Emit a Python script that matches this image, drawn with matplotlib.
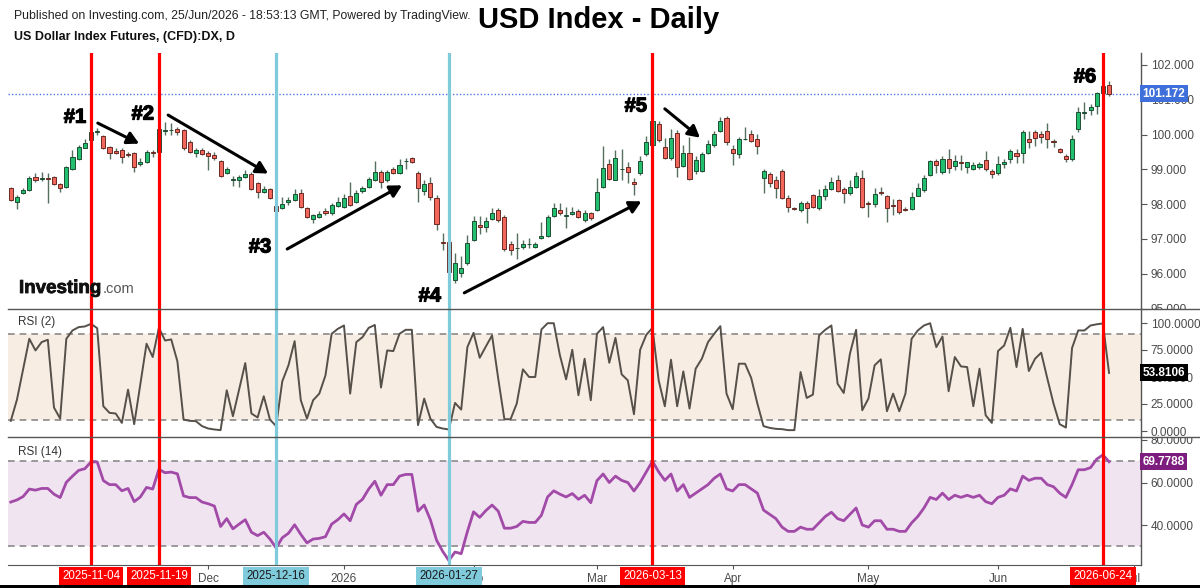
import matplotlib
matplotlib.use("Agg")
import matplotlib.pyplot as plt
import matplotlib.transforms as mtransforms
import matplotlib.patheffects as pe
from matplotlib.lines import Line2D
from matplotlib.patches import Rectangle
import numpy as np
import pandas as pd

plt.rcParams['font.family'] = ['Liberation Sans', 'DejaVu Sans']

# ---------------- data ----------------
dates = pd.bdate_range("2025-10-16", "2026-06-25")
dates = dates[~dates.isin(pd.to_datetime(["2025-12-25", "2026-01-01"]))]

open_ = [98.46, 98.07, 98.33, 98.41, 98.79, 98.72, 98.74, 98.77, 98.58, 98.49,
         99.00, 99.30, 99.61, 99.83, 100.07, 99.96, 99.65, 99.53, 99.56, 99.43,
         99.48, 99.15, 99.20, 99.51, 99.49, 100.10, 100.12, 100.15, 100.13, 99.80,
         99.46, 99.56, 99.48, 99.41, 99.25, 98.90, 98.70, 98.68, 98.79, 98.87,
         98.60, 98.36, 98.43, 97.95, 97.88, 98.07, 98.12, 98.31, 97.88, 97.57,
         97.64, 97.80, 97.74, 97.95, 97.93, 98.22, 98.07, 98.38, 98.50, 98.70,
         98.93, 98.68, 99.01, 98.90, 99.23, 99.32, 98.90, 98.39, 98.60, 98.17,
         96.90, 96.90, 95.82, 96.03, 96.30, 96.97, 97.39, 97.33, 97.57, 97.83,
         97.64, 96.85, 96.73, 96.78, 96.84, 96.78, 97.02, 97.09, 97.66, 97.83,
         97.66, 97.71, 97.80, 97.53, 97.74, 97.83, 98.50, 99.16, 98.70, 99.00,
         99.06, 98.64, 98.90, 99.44, 99.70, 100.30, 99.63, 99.34, 100.04, 99.10,
         99.46, 98.96, 98.96, 99.46, 99.70, 100.11, 100.47, 99.59, 99.43, 99.86,
         100.02, 99.87, 98.76, 98.87, 98.70, 98.96, 98.19, 97.88, 97.83, 98.04,
         98.26, 97.88, 98.24, 98.44, 98.70, 98.44, 98.31, 98.49, 98.76, 98.04,
         98.00, 98.36, 98.24, 97.96, 98.12, 97.86, 97.85, 98.24, 98.41, 98.84,
         99.24, 98.93, 99.30, 99.10, 99.20, 99.08, 99.00, 99.08, 99.27, 98.95,
         98.89, 99.15, 99.29, 99.46, 99.46, 99.86, 100.07, 100.02, 100.10, 99.82,
         99.58, 99.39, 99.30, 100.16, 100.63, 100.71, 100.83, 101.19, 101.43]

high = [98.50, 98.25, 98.45, 98.80, 98.90, 98.92, 98.90, 98.80, 98.60, 99.10,
        99.55, 99.70, 99.88, 100.12, 100.20, 100.00, 99.68, 99.60, 99.62, 99.50,
        99.50, 99.32, 99.55, 99.55, 100.20, 100.37, 100.32, 100.22, 100.17, 99.85,
        99.60, 99.60, 99.52, 99.50, 99.28, 99.08, 98.80, 98.85, 98.97, 98.92,
        98.65, 98.52, 98.47, 98.00, 98.20, 98.20, 98.43, 98.43, 97.92, 97.73,
        97.80, 97.88, 98.02, 98.20, 98.28, 98.65, 98.42, 98.52, 98.78, 99.24,
        98.97, 98.98, 99.06, 99.30, 99.32, 99.36, 98.95, 98.70, 98.78, 98.27,
        97.18, 97.10, 96.60, 96.50, 97.10, 97.65, 97.65, 97.62, 97.90, 97.90,
        97.68, 96.93, 97.16, 96.98, 97.03, 96.90, 97.50, 97.68, 98.04, 98.04,
        97.92, 97.92, 97.85, 97.82, 97.78, 98.74, 99.67, 99.30, 99.55, 99.58,
        99.20, 98.76, 99.37, 99.95, 100.53, 100.38, 99.90, 100.15, 100.13, 99.70,
        99.94, 99.37, 99.51, 99.85, 100.09, 100.51, 100.52, 99.71, 99.94, 100.23,
        100.14, 100.03, 99.00, 98.93, 98.80, 99.00, 98.27, 97.93, 98.10, 98.10,
        98.30, 98.43, 98.54, 98.77, 98.84, 98.49, 98.69, 98.93, 98.98, 98.10,
        98.45, 98.50, 98.27, 98.16, 98.16, 97.93, 98.36, 98.60, 98.84, 99.27,
        99.29, 99.37, 99.58, 99.41, 99.41, 99.22, 99.22, 99.22, 99.54, 99.00,
        99.37, 99.31, 99.58, 99.58, 100.14, 100.09, 100.14, 100.09, 100.32, 99.86,
        99.61, 99.44, 99.98, 100.80, 100.95, 100.88, 101.23, 101.57, 101.55]

low = [98.08, 97.85, 98.30, 98.38, 98.65, 98.66, 98.03, 98.55, 98.36, 98.45,
       98.97, 99.28, 99.60, 99.80, 99.98, 99.58, 99.29, 99.45, 99.18, 99.35,
       98.93, 99.10, 99.18, 99.35, 99.45, 99.98, 100.00, 100.00, 99.57, 99.48,
       99.35, 99.40, 98.98, 99.28, 98.78, 98.86, 98.52, 98.50, 98.74, 98.40,
       98.18, 98.33, 98.14, 97.55, 97.85, 97.98, 98.10, 97.90, 97.60, 97.45,
       97.60, 97.69, 97.70, 97.92, 97.90, 97.95, 98.03, 98.33, 98.45, 98.66,
       98.46, 98.64, 98.86, 98.87, 99.00, 99.17, 98.07, 98.25, 98.13, 97.26,
       96.68, 95.40, 95.73, 95.90, 96.25, 96.93, 97.15, 97.20, 97.55, 97.50,
       96.66, 96.55, 96.42, 96.70, 96.73, 96.75, 97.00, 97.05, 97.62, 97.68,
       97.30, 97.68, 97.60, 97.50, 97.55, 97.80, 98.45, 98.68, 98.68, 98.70,
       98.60, 98.27, 98.83, 99.37, 99.65, 99.79, 99.29, 99.27, 98.79, 99.07,
       98.68, 98.88, 98.92, 99.44, 99.65, 100.08, 99.70, 99.13, 99.32, 99.83,
       99.79, 99.44, 98.33, 98.50, 98.17, 98.14, 97.78, 97.83, 97.78, 97.45,
       97.88, 97.82, 98.13, 98.41, 98.36, 98.04, 98.26, 98.46, 97.88, 97.62,
       97.92, 98.26, 97.50, 97.70, 97.72, 97.79, 97.83, 98.22, 98.36, 98.82,
       98.90, 98.88, 98.89, 98.98, 98.98, 98.90, 98.98, 99.00, 98.94, 98.75,
       98.84, 99.05, 99.17, 99.17, 99.17, 99.60, 99.67, 99.76, 99.60, 99.63,
       99.48, 99.22, 99.25, 100.08, 100.44, 100.57, 100.60, 101.12, 101.10]

close = [98.12, 98.20, 98.40, 98.74, 98.69, 98.74, 98.72, 98.58, 98.46, 99.06,
         99.36, 99.65, 99.75, 100.08, 100.10, 99.61, 99.48, 99.48, 99.35, 99.41,
         99.08, 99.22, 99.51, 99.48, 100.15, 100.12, 100.12, 100.08, 99.60, 99.51,
         99.56, 99.44, 99.38, 99.32, 98.81, 99.00, 98.72, 98.77, 98.87, 98.43,
         98.36, 98.43, 98.17, 97.80, 98.00, 98.12, 98.29, 97.93, 97.64, 97.69,
         97.71, 97.74, 97.98, 98.07, 98.17, 97.98, 98.33, 98.46, 98.72, 98.93,
         98.65, 98.93, 98.90, 99.13, 99.25, 99.20, 98.46, 98.58, 98.20, 97.43,
         96.88, 96.06, 96.30, 96.16, 96.88, 97.52, 97.33, 97.52, 97.74, 97.55,
         96.70, 96.68, 96.75, 96.86, 96.86, 96.86, 97.09, 97.64, 97.88, 97.74,
         97.68, 97.77, 97.64, 97.74, 97.59, 98.36, 99.03, 98.72, 99.32, 99.02,
         98.93, 98.58, 99.24, 99.78, 100.40, 99.84, 99.34, 99.90, 99.08, 99.48,
         98.72, 99.27, 99.43, 99.72, 100.02, 100.39, 99.78, 99.46, 99.87, 99.87,
         99.82, 99.68, 98.96, 98.60, 98.46, 98.17, 97.93, 97.87, 98.04, 97.90,
         97.93, 98.24, 98.44, 98.63, 98.39, 98.33, 98.50, 98.82, 97.93, 98.00,
         98.28, 98.33, 97.88, 97.95, 97.78, 97.82, 98.20, 98.46, 98.75, 99.25,
         99.13, 99.30, 99.03, 99.24, 99.19, 99.20, 99.13, 99.15, 99.00, 98.86,
         99.15, 99.22, 99.54, 99.39, 100.07, 99.80, 99.90, 99.94, 99.86, 99.78,
         99.51, 99.29, 99.87, 100.64, 100.65, 100.80, 101.19, 101.40, 101.172]

rsi2 = [9.4, 29.1, 57.0, 85.4, 74.6, 82.3, 84.5, 21.7, 11.5, 85.4,
        93.1, 96.2, 96.8, 99.2, 95.2, 22.9, 16.8, 16.2, 7.5, 38.3,
        6.3, 43.8, 80.8, 68.5, 95.6, 83.8, 84.8, 64.5, 10.6, 9.4,
        9.1, 4.5, 2.3, 1.4, 0.8, 37.7, 13.7, 38.3, 62.9, 16.2,
        12.5, 32.2, 10.6, 4.5, 46.0, 60.8, 83.2, 28.5, 11.5, 28.5,
        34.6, 51.5, 90.0, 94.6, 97.7, 34.6, 82.3, 86.9, 95.5, 98.2,
        40.2, 74.6, 74.0, 90.0, 93.7, 93.7, 5.4, 30.0, 11.5, 3.8,
        2.3, 1.4, 26.0, 19.8, 77.7, 90.9, 67.8, 78.3, 88.5, 48.5,
        10.9, 10.9, 25.4, 57.1, 50.0, 50.0, 94.0, 99.8, 99.8, 70.0,
        47.8, 75.2, 33.1, 66.9, 28.5, 90.0, 96.2, 63.2, 86.3, 52.5,
        46.9, 15.5, 75.2, 89.1, 95.5, 46.9, 22.9, 66.0, 22.9, 55.2,
        20.8, 57.7, 66.9, 82.3, 90.0, 97.1, 34.6, 20.2, 62.3, 62.3,
        49.1, 25.4, 4.5, 2.9, 2.0, 1.7, 0.8, 0.8, 54.6, 30.6,
        33.7, 88.5, 93.7, 97.7, 43.8, 35.2, 71.5, 93.7, 19.2, 30.0,
        60.8, 66.3, 18.3, 34.6, 18.3, 34.6, 85.4, 93.1, 97.7, 99.8,
        77.7, 87.5, 36.8, 68.5, 59.8, 59.2, 22.9, 57.7, 14.6, 7.5,
        74.0, 79.2, 95.5, 59.2, 94.6, 55.5, 66.9, 72.5, 48.5, 25.4,
        6.3, 3.2, 76.8, 93.1, 93.1, 97.7, 98.8, 99.6, 53.8106]

rsi14 = [50.8, 51.8, 53.4, 56.9, 56.4, 57.2, 57.2, 54.5, 52.9, 60.1,
         63.0, 65.7, 66.5, 69.7, 69.7, 60.9, 59.0, 59.0, 56.1, 57.2,
         51.0, 53.2, 57.7, 56.9, 66.2, 64.6, 64.9, 64.1, 53.7, 52.9,
         52.9, 50.8, 50.0, 48.9, 39.3, 43.0, 38.2, 40.4, 42.5, 36.6,
         35.0, 36.6, 33.4, 29.2, 34.0, 36.1, 40.1, 35.6, 31.6, 33.4,
         33.7, 34.5, 40.4, 42.5, 45.2, 42.0, 49.7, 52.1, 56.9, 60.6,
         54.0, 59.0, 59.0, 63.0, 63.8, 63.8, 46.5, 49.4, 42.5, 32.9,
         27.6, 23.3, 27.3, 26.5, 36.9, 46.2, 43.6, 46.8, 49.4, 46.5,
         38.5, 38.5, 39.3, 41.7, 41.2, 41.2, 44.6, 53.2, 56.1, 54.5,
         53.2, 54.8, 52.1, 54.0, 50.5, 60.9, 64.0, 60.0, 63.0, 61.0,
         60.0, 56.0, 60.0, 65.0, 70.0, 65.0, 61.0, 64.0, 56.0, 59.0,
         53.0, 55.0, 57.0, 59.0, 62.0, 64.0, 57.0, 56.0, 59.0, 59.0,
         57.0, 55.0, 47.0, 45.0, 43.0, 39.0, 37.0, 37.0, 39.0, 38.0,
         38.0, 41.0, 44.0, 46.0, 43.0, 42.0, 45.0, 48.0, 40.0, 39.0,
         42.0, 42.0, 38.0, 38.0, 37.0, 37.0, 41.0, 44.0, 48.0, 53.0,
         52.0, 55.0, 52.0, 54.0, 53.0, 54.0, 53.0, 54.0, 51.0, 50.0,
         53.0, 54.0, 57.0, 56.0, 63.0, 61.0, 62.0, 62.0, 59.0, 58.0,
         55.0, 53.0, 59.0, 66.0, 66.0, 67.0, 71.0, 73.0, 69.7788]

price_ticks = [95, 96, 97, 98, 99, 100, 101, 102]
rsi2_ticks = [0, 25, 50, 75, 100]
rsi14_ticks = [40, 60, 80]
last_price = 101.172
last_rsi2 = 53.8106
last_rsi14 = 69.7788
red_marks = ["2025-11-04", "2025-11-19", "2026-03-13", "2026-06-24"]
blue_marks = ["2025-12-16", "2026-01-27"]
event_labels = ["#1", "#2", "#3", "#4", "#5", "#6"]

# ---------------- layout helpers ----------------
W, H = 1200, 588
fig = plt.figure(figsize=(W / 100, H / 100), dpi=100)
fig.patch.set_facecolor("white")

X0_PX, STEP_PX = 10.8, 6.17          # pixel of bar 0, pixels per bar
L_PX, R_PX = 8, 1141


def px_axes(top, bottom):
    return fig.add_axes([L_PX / W, 1 - bottom / H, (R_PX - L_PX) / W, (bottom - top) / H])


def fx(px):
    return px / W


def fy(py):
    return 1 - py / H


ax1 = px_axes(53, 309)
ax2 = px_axes(309, 437)
ax3 = px_axes(437, 565)

xlim = ((L_PX - X0_PX) / STEP_PX, (R_PX - X0_PX) / STEP_PX)
for a in (ax1, ax2, ax3):
    a.set_xlim(*xlim)
    a.set_facecolor("none")
    for s in ("top", "left", "bottom"):
        a.spines[s].set_visible(False)
    a.spines["right"].set_color("#555555")
    a.spines["right"].set_linewidth(1.0)
    a.yaxis.tick_right()
    a.tick_params(axis="y", length=4, width=0.8, colors="#555555", labelsize=8.5,
                  labelcolor="#4a4a4a", pad=3)
    a.tick_params(axis="x", bottom=False, labelbottom=False)

ax3.spines["bottom"].set_visible(True)
ax3.spines["bottom"].set_color("#555555")

ax1.set_ylim(95 - 0.5 / 34.79, 102 + 12 / 34.79)
ax2.set_ylim(-6 / 1.08, 100 + 14 / 1.08)
ax3.set_ylim(40 - 40 / 2.125, 80 + 3 / 2.125)

idx = np.arange(len(close))
date_index = {d.strftime("%Y-%m-%d"): i for i, d in enumerate(dates)}

# ---------------- candles ----------------
o = np.array(open_); c = np.array(close); h = np.array(high); l = np.array(low)
up = c >= o
ax1.vlines(idx, l, h, color="#56705f", lw=1.0, zorder=2)
body_lo = np.minimum(o, c)
body_h = np.maximum(np.abs(c - o), 0.012)
ax1.bar(idx[up], body_h[up], bottom=body_lo[up], width=0.66, color="#22c06e",
        edgecolor="#1e4d33", linewidth=0.7, zorder=3)
ax1.bar(idx[~up], body_h[~up], bottom=body_lo[~up], width=0.66, color="#f2665b",
        edgecolor="#6a2a24", linewidth=0.7, zorder=3)

ax1.axhline(last_price, color="#4a78e0", lw=1.0, ls=(0, (1, 1.5)), zorder=1)

ax1.set_yticks(price_ticks)
ax1.set_yticklabels([f"{v:.3f}" for v in price_ticks])

# ---------------- RSI(2) ----------------
ax2.axhspan(10, 90, color="#f7ede3", zorder=0, lw=0)
for lv in (10, 90):
    ax2.axhline(lv, color="#8a8a8a", lw=1.2, ls=(0, (4, 3)), zorder=1)
ax2.plot(idx, rsi2, color="#555049", lw=1.4, zorder=3)
ax2.set_yticks(rsi2_ticks)
ax2.set_yticklabels([f"{v:.4f}" for v in rsi2_ticks])

# ---------------- RSI(14) ----------------
ax3.axhspan(30, 70, color="#f1e4f1", zorder=0, lw=0)
for lv in (30, 70):
    ax3.axhline(lv, color="#8a8a8a", lw=1.2, ls=(0, (4, 3)), zorder=1)
ax3.plot(idx, rsi14, color="#a24aa8", lw=2.0, zorder=3)
ax3.set_yticks(rsi14_ticks)
ax3.set_yticklabels([f"{v:.4f}" for v in rsi14_ticks])

# clip right-axis labels to their own pane
for a in (ax1, ax2, ax3):
    cb = mtransforms.TransformedBbox(mtransforms.Bbox([[1.0, 0.0], [1.1, 1.0]]), a.transAxes)
    for lab in a.get_yticklabels():
        lab.set_clip_box(cb)
        lab.set_clip_on(True)

# ---------------- vertical event lines ----------------
for d in red_marks:
    for a in (ax1, ax2, ax3):
        a.axvline(date_index[d], color="#ff0000", lw=2.3, zorder=6)
for d in blue_marks:
    for a in (ax1, ax2, ax3):
        a.axvline(date_index[d], color="#7fcadb", lw=2.3, zorder=6)

# ---------------- value tags on right axis ----------------
def tag(ax, val, text, fc):
    tr = mtransforms.blended_transform_factory(ax.transAxes, ax.transData)
    ax.text(1.0015, val, text, transform=tr, ha="left", va="center", color="white",
            fontsize=8.5, fontweight="bold", clip_on=False, zorder=10,
            bbox=dict(boxstyle="square,pad=0.22", fc=fc, ec="none"))

tag(ax1, last_price, f"{last_price:.3f}", "#3f6fda")
tag(ax2, last_rsi2, f"{last_rsi2:.4f}", "#000000")
tag(ax3, last_rsi14, f"{last_rsi14:.4f}", "#7d1d7e")

# ---------------- x axis: months + date boxes ----------------
month_pos, month_lab = [], []
prev = None
for i, d in enumerate(dates):
    key = (d.year, d.month)
    if key != prev and i > 0 and d.month != 11:
        month_pos.append(i)
        month_lab.append(str(d.year) if d.month == 1 else d.strftime("%b"))
    prev = key
# July 2026 (beyond the data: Jun 26, 29, 30, Jul 1)
month_pos.append(len(dates) - 1 + 4)
month_lab.append("Jul")
ax3.set_xticks(month_pos)
ax3.set_xticklabels(month_lab)
ax3.tick_params(axis="x", bottom=True, labelbottom=True, length=3, width=0.8,
                colors="#555555", labelcolor="#4a4a4a", labelsize=8.5, pad=3)

trx = mtransforms.blended_transform_factory(ax3.transData, fig.transFigure)
for d in red_marks:
    ax3.text(date_index[d], fy(576), d, transform=trx, ha="center", va="center",
             fontsize=8.3, color="white", clip_on=False, zorder=12,
             bbox=dict(boxstyle="square,pad=0.28", fc="#ff0000", ec="none"))
for d in blue_marks:
    ax3.text(date_index[d], fy(576), d, transform=trx, ha="center", va="center",
             fontsize=8.3, color="#1a1a1a", clip_on=False, zorder=12,
             bbox=dict(boxstyle="square,pad=0.28", fc="#7fcadb", ec="none"))

# ---------------- pane separators ----------------
for py in (309, 437):
    fig.add_artist(Line2D([fx(L_PX), 1.0], [fy(py), fy(py)], transform=fig.transFigure,
                          color="#555555", lw=1.0))

# ---------------- annotations ----------------
lab_kw = dict(fontsize=14.5, fontweight="bold", color="black", ha="center", va="center",
              zorder=8, path_effects=[pe.withStroke(linewidth=0.9, foreground="black")])
label_pos = [(10.4, 100.50), (21.4, 100.59), (40.4, 96.77), (67.9, 95.36),
             (101.3, 100.82), (174.1, 101.66)]
for t, (xx, yy) in zip(event_labels, label_pos):
    ax1.text(xx, yy, t, **lab_kw)

arrows = [((14.1, 100.33), (20.8, 99.74)),
          ((25.5, 100.56), (41.7, 98.88)),
          ((44.8, 96.71), (63.4, 98.54)),
          ((73.5, 95.45), (102.2, 98.08)),
          ((106.0, 100.74), (111.7, 99.91))]
for (s, e) in arrows:
    ax1.annotate("", xy=e, xytext=s, zorder=8,
                 arrowprops=dict(arrowstyle="-|>,head_length=0.7,head_width=0.38",
                                 color="black", lw=2.2, shrinkA=0, shrinkB=0))

# Investing.com logo
fig.text(fx(19), fy(293), "Investing", fontsize=13.5, fontweight="bold", color="#111111",
         ha="left", va="baseline",
         path_effects=[pe.withStroke(linewidth=0.6, foreground="#111111")])
fig.text(fx(103), fy(293), ".com", fontsize=10.5, color="#555555", ha="left", va="baseline")

# headers
fig.text(fx(14), fy(16), "Published on Investing.com, 25/Jun/2026 - 18:53:13 GMT, Powered by TradingView.",
         fontsize=8.8, color="#222222", ha="left", va="center")
fig.text(fx(14), fy(37), "US Dollar Index Futures, (CFD):DX, D", fontsize=9,
         fontweight="bold", color="#111111", ha="left", va="center")
fig.text(fx(599), fy(20), "USD Index - Daily", fontsize=21, fontweight="bold",
         color="black", ha="center", va="center")

fig.text(fx(18), fy(322), "RSI (2)", fontsize=8.5, color="#333333", ha="left", va="center")
fig.text(fx(18), fy(452), "RSI (14)", fontsize=8.5, color="#333333", ha="left", va="center")

# thin dark strip at the very bottom
fig.add_artist(Rectangle((0, 0), 1, 3 / H, transform=fig.transFigure, color="black", lw=0))

fig.savefig("out.png", dpi=100, facecolor="white")
